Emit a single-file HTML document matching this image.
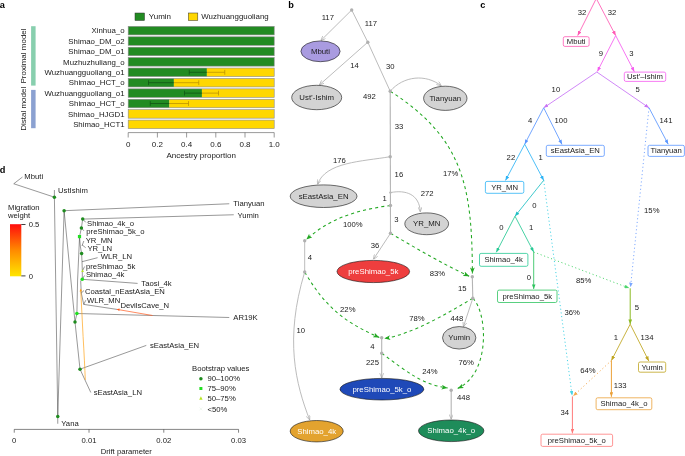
<!DOCTYPE html>
<html lang="en"><head><meta charset="utf-8"><title>Figure</title>
<style>html,body{margin:0;padding:0;background:#fff}body{width:685px;height:456px;overflow:hidden}svg{display:block}text{font-family:"Liberation Sans", Arial, Helvetica, sans-serif}</style></head><body>
<svg width="685" height="456" viewBox="0 0 685 456" fill="#1a1a1a" style="will-change:transform">
<rect width="685" height="456" fill="#fff"/>
<defs>
<marker id="mg" viewBox="0 0 10 9" refX="10" refY="4.5" markerWidth="5" markerHeight="4.5" orient="auto" markerUnits="userSpaceOnUse"><path d="M0.5,0.5L10,4.5L0.5,8.5" fill="none" stroke="#a8a8a8" stroke-width="1.3"/></marker>
<marker id="mgr" viewBox="0 0 10 8" refX="10" refY="4" markerWidth="6" markerHeight="4.8" orient="auto" markerUnits="userSpaceOnUse"><path d="M0,0L10,4L0,8L2.5,4z" fill="#22a822"/></marker>
<marker id="m_pink" viewBox="0 0 10 8" refX="10" refY="4" markerWidth="4.8" markerHeight="3.7" orient="auto" markerUnits="userSpaceOnUse"><path d="M0,0L10,4L0,8z" fill="#ff5ab4"/></marker>
<marker id="m_mag" viewBox="0 0 10 8" refX="10" refY="4" markerWidth="4.8" markerHeight="3.7" orient="auto" markerUnits="userSpaceOnUse"><path d="M0,0L10,4L0,8z" fill="#f55cf0"/></marker>
<marker id="m_pur" viewBox="0 0 10 8" refX="10" refY="4" markerWidth="4.8" markerHeight="3.7" orient="auto" markerUnits="userSpaceOnUse"><path d="M0,0L10,4L0,8z" fill="#c873f5"/></marker>
<marker id="m_blue" viewBox="0 0 10 8" refX="10" refY="4" markerWidth="4.8" markerHeight="3.7" orient="auto" markerUnits="userSpaceOnUse"><path d="M0,0L10,4L0,8z" fill="#5a96ff"/></marker>
<marker id="m_sky" viewBox="0 0 10 8" refX="10" refY="4" markerWidth="4.8" markerHeight="3.7" orient="auto" markerUnits="userSpaceOnUse"><path d="M0,0L10,4L0,8z" fill="#2db4f5"/></marker>
<marker id="m_teal" viewBox="0 0 10 8" refX="10" refY="4" markerWidth="4.8" markerHeight="3.7" orient="auto" markerUnits="userSpaceOnUse"><path d="M0,0L10,4L0,8z" fill="#1fbfc4"/></marker>
<marker id="m_grn" viewBox="0 0 10 8" refX="10" refY="4" markerWidth="4.8" markerHeight="3.7" orient="auto" markerUnits="userSpaceOnUse"><path d="M0,0L10,4L0,8z" fill="#27c994"/></marker>
<marker id="m_grn2" viewBox="0 0 10 8" refX="10" refY="4" markerWidth="4.8" markerHeight="3.7" orient="auto" markerUnits="userSpaceOnUse"><path d="M0,0L10,4L0,8z" fill="#2fc45f"/></marker>
<marker id="m_olive" viewBox="0 0 10 8" refX="10" refY="4" markerWidth="4.8" markerHeight="3.7" orient="auto" markerUnits="userSpaceOnUse"><path d="M0,0L10,4L0,8z" fill="#8cba24"/></marker>
<marker id="m_gold" viewBox="0 0 10 8" refX="10" refY="4" markerWidth="4.8" markerHeight="3.7" orient="auto" markerUnits="userSpaceOnUse"><path d="M0,0L10,4L0,8z" fill="#bfa51f"/></marker>
<marker id="m_org" viewBox="0 0 10 8" refX="10" refY="4" markerWidth="4.8" markerHeight="3.7" orient="auto" markerUnits="userSpaceOnUse"><path d="M0,0L10,4L0,8z" fill="#eba13a"/></marker>
<marker id="m_red" viewBox="0 0 10 8" refX="10" refY="4" markerWidth="4.8" markerHeight="3.7" orient="auto" markerUnits="userSpaceOnUse"><path d="M0,0L10,4L0,8z" fill="#ff7a7a"/></marker>
<marker id="m_cyan" viewBox="0 0 10 8" refX="10" refY="4" markerWidth="4.8" markerHeight="3.7" orient="auto" markerUnits="userSpaceOnUse"><path d="M0,0L10,4L0,8z" fill="#45d3e6"/></marker>
<marker id="m_lblue" viewBox="0 0 10 8" refX="10" refY="4" markerWidth="4.8" markerHeight="3.7" orient="auto" markerUnits="userSpaceOnUse"><path d="M0,0L10,4L0,8z" fill="#7aa7ff"/></marker>
<marker id="m_lgrn" viewBox="0 0 10 8" refX="10" refY="4" markerWidth="4.8" markerHeight="3.7" orient="auto" markerUnits="userSpaceOnUse"><path d="M0,0L10,4L0,8z" fill="#4fd66e"/></marker>
<marker id="m_lorg" viewBox="0 0 10 8" refX="10" refY="4" markerWidth="4.8" markerHeight="3.7" orient="auto" markerUnits="userSpaceOnUse"><path d="M0,0L10,4L0,8z" fill="#f5a94f"/></marker>
<linearGradient id="mw" x1="0" y1="0" x2="0" y2="1"><stop offset="0" stop-color="#ff0d0d"/><stop offset="0.5" stop-color="#ff8a00"/><stop offset="1" stop-color="#ffe600"/></linearGradient>
</defs>
<text x="-0.30" y="8.30" font-size="9.2" fill="#000" font-weight="bold">a</text>
<text x="288.20" y="8.30" font-size="9.2" fill="#000" font-weight="bold">b</text>
<text x="480.20" y="8.30" font-size="9.2" fill="#000" font-weight="bold">c</text>
<text x="-0.30" y="173.20" font-size="9.2" fill="#000" font-weight="bold">d</text>
<rect x="135" y="13" width="9.5" height="7.5" fill="#228b22" stroke="#333" stroke-width="0.5"/>
<text x="148.80" y="19.40" font-size="8">Yumin</text>
<rect x="188.3" y="13" width="9.5" height="7.5" fill="#ffd700" stroke="#333" stroke-width="0.5"/>
<text x="201.30" y="19.40" font-size="7.9">Wuzhuangguoliang</text>
<rect x="31.1" y="26.2" width="4.5" height="59.4" fill="#88cfae"/>
<rect x="31.1" y="89.9" width="4.5" height="38.3" fill="#8ba1d1"/>
<text transform="translate(26.2,56) rotate(-90)" text-anchor="middle" font-size="8">Proximal model</text>
<text transform="translate(26.2,108.8) rotate(-90)" text-anchor="middle" font-size="8">Distal model</text>
<rect x="128.20" y="26.40" width="146.00" height="8.50" fill="#228b22"/>
<rect x="128.20" y="26.40" width="146.00" height="8.50" fill="none" stroke="#8a8a8a" stroke-width="0.6"/>
<text x="124.60" y="33.40" font-size="7.85" text-anchor="end">Xinhua_o</text>
<rect x="128.20" y="36.81" width="146.00" height="8.50" fill="#228b22"/>
<rect x="128.20" y="36.81" width="146.00" height="8.50" fill="none" stroke="#8a8a8a" stroke-width="0.6"/>
<text x="124.60" y="43.81" font-size="7.85" text-anchor="end">Shimao_DM_o2</text>
<rect x="128.20" y="47.22" width="146.00" height="8.50" fill="#228b22"/>
<rect x="128.20" y="47.22" width="146.00" height="8.50" fill="none" stroke="#8a8a8a" stroke-width="0.6"/>
<text x="124.60" y="54.22" font-size="7.85" text-anchor="end">Shimao_DM_o1</text>
<rect x="128.20" y="57.63" width="146.00" height="8.50" fill="#228b22"/>
<rect x="128.20" y="57.63" width="146.00" height="8.50" fill="none" stroke="#8a8a8a" stroke-width="0.6"/>
<text x="124.60" y="64.63" font-size="7.85" text-anchor="end">Muzhuzhuliang_o</text>
<rect x="128.20" y="68.04" width="78.69" height="8.50" fill="#228b22"/>
<rect x="206.89" y="68.04" width="67.31" height="8.50" fill="#ffd700"/>
<rect x="128.20" y="68.04" width="146.00" height="8.50" fill="none" stroke="#8a8a8a" stroke-width="0.6"/>
<path d="M189.25,72.29H206.89M189.25,69.89V74.69" stroke="#0f4f14" stroke-width="0.7" fill="none"/>
<path d="M206.89,72.29H224.75M224.75,69.89V74.69" stroke="#b58a00" stroke-width="0.7" fill="none"/>
<text x="124.60" y="75.04" font-size="7.85" text-anchor="end">Wuzhuangguoliang_o1</text>
<rect x="128.20" y="78.45" width="45.70" height="8.50" fill="#228b22"/>
<rect x="173.90" y="78.45" width="100.30" height="8.50" fill="#ffd700"/>
<rect x="128.20" y="78.45" width="146.00" height="8.50" fill="none" stroke="#8a8a8a" stroke-width="0.6"/>
<path d="M148.50,82.70H173.90M148.50,80.30V85.10" stroke="#0f4f14" stroke-width="0.7" fill="none"/>
<path d="M173.90,82.70H198.75M198.75,80.30V85.10" stroke="#b58a00" stroke-width="0.7" fill="none"/>
<text x="124.60" y="85.45" font-size="7.85" text-anchor="end">Shimao_HCT_o</text>
<rect x="128.20" y="88.86" width="73.73" height="8.50" fill="#228b22"/>
<rect x="201.93" y="88.86" width="72.27" height="8.50" fill="#ffd700"/>
<rect x="128.20" y="88.86" width="146.00" height="8.50" fill="none" stroke="#8a8a8a" stroke-width="0.6"/>
<path d="M184.50,93.11H201.93M184.50,90.71V95.51" stroke="#0f4f14" stroke-width="0.7" fill="none"/>
<path d="M201.93,93.11H218.50M218.50,90.71V95.51" stroke="#b58a00" stroke-width="0.7" fill="none"/>
<text x="124.60" y="95.86" font-size="7.85" text-anchor="end">Wuzhuangguoliang_o1</text>
<rect x="128.20" y="99.27" width="41.25" height="8.50" fill="#228b22"/>
<rect x="169.44" y="99.27" width="104.75" height="8.50" fill="#ffd700"/>
<rect x="128.20" y="99.27" width="146.00" height="8.50" fill="none" stroke="#8a8a8a" stroke-width="0.6"/>
<path d="M150.25,103.52H169.44M150.25,101.12V105.92" stroke="#0f4f14" stroke-width="0.7" fill="none"/>
<path d="M169.44,103.52H188.50M188.50,101.12V105.92" stroke="#b58a00" stroke-width="0.7" fill="none"/>
<text x="124.60" y="106.27" font-size="7.85" text-anchor="end">Shimao_HCT_o</text>
<rect x="128.20" y="109.68" width="146.00" height="8.50" fill="#ffd700"/>
<rect x="128.20" y="109.68" width="146.00" height="8.50" fill="none" stroke="#8a8a8a" stroke-width="0.6"/>
<text x="124.60" y="116.68" font-size="7.85" text-anchor="end">Shimao_HJGD1</text>
<rect x="128.20" y="120.09" width="146.00" height="8.50" fill="#ffd700"/>
<rect x="128.20" y="120.09" width="146.00" height="8.50" fill="none" stroke="#8a8a8a" stroke-width="0.6"/>
<text x="124.60" y="127.09" font-size="7.85" text-anchor="end">Shimao_HCT1</text>
<path d="M128.20,132.6H274.20M128.20,132.6V137.5M157.40,132.6V137.5M186.60,132.6V137.5M215.80,132.6V137.5M245.00,132.6V137.5M274.20,132.6V137.5" stroke="#555" stroke-width="0.6" fill="none"/>
<text x="128.20" y="146.60" font-size="8" text-anchor="middle">0</text>
<text x="157.40" y="146.60" font-size="8" text-anchor="middle">0.2</text>
<text x="186.60" y="146.60" font-size="8" text-anchor="middle">0.4</text>
<text x="215.80" y="146.60" font-size="8" text-anchor="middle">0.6</text>
<text x="245.00" y="146.60" font-size="8" text-anchor="middle">0.8</text>
<text x="274.20" y="146.60" font-size="8" text-anchor="middle">1.0</text>
<text x="201.20" y="158.10" font-size="8" text-anchor="middle">Ancestry proportion</text>
<g id="panel-d">
<path d="M22.50,177.00L13.75,183.75L54.40,197.20" stroke="#333" stroke-width="0.5" fill="none"/>
<path d="M54.40,190.00L54.40,197.20L57.75,416.50L57.75,423.75" stroke="#333" stroke-width="0.5" fill="none"/>
<path d="M64.10,210.70L229.25,203.75" stroke="#333" stroke-width="0.5" fill="none"/>
<path d="M64.10,210.70L57.75,416.50" stroke="#333" stroke-width="0.5" fill="none"/>
<path d="M64.10,210.70L75.00,322.00" stroke="#333" stroke-width="0.5" fill="none"/>
<path d="M75.00,322.00L80.00,369.20" stroke="#333" stroke-width="0.5" fill="none"/>
<path d="M80.00,369.20L146.30,345.40" stroke="#333" stroke-width="0.5" fill="none"/>
<path d="M80.00,369.20L90.80,392.50" stroke="#333" stroke-width="0.5" fill="none"/>
<path d="M75.00,322.00L76.90,313.50" stroke="#333" stroke-width="0.5" fill="none"/>
<path d="M76.90,313.50L229.25,317.50" stroke="#333" stroke-width="0.5" fill="none"/>
<path d="M76.90,313.50L77.60,280.00L79.40,240.00L79.50,236.60" stroke="#333" stroke-width="0.5" fill="none"/>
<path d="M79.50,236.60L81.40,228.00L82.70,219.10" stroke="#333" stroke-width="0.5" fill="none"/>
<path d="M82.70,219.10L233.75,214.75" stroke="#333" stroke-width="0.5" fill="none"/>
<path d="M82.70,219.10L85.80,222.40" stroke="#333" stroke-width="0.5" fill="none"/>
<path d="M81.40,228.00L83.90,230.80" stroke="#333" stroke-width="0.5" fill="none"/>
<path d="M79.50,236.60L80.30,246.00L81.60,253.60" stroke="#333" stroke-width="0.5" fill="none"/>
<path d="M82.00,245.80L83.80,241.00" stroke="#333" stroke-width="0.5" fill="none"/>
<path d="M82.20,245.00L85.70,247.70" stroke="#333" stroke-width="0.5" fill="none"/>
<path d="M81.60,253.60L82.00,261.70L97.60,257.70" stroke="#333" stroke-width="0.5" fill="none"/>
<path d="M82.00,261.70L82.30,270.50L82.30,279.30" stroke="#333" stroke-width="0.5" fill="none"/>
<path d="M82.60,270.60L84.60,266.50" stroke="#333" stroke-width="0.5" fill="none"/>
<path d="M82.30,279.30L84.50,275.50" stroke="#333" stroke-width="0.5" fill="none"/>
<path d="M82.30,279.30L137.60,283.40" stroke="#333" stroke-width="0.5" fill="none"/>
<path d="M82.30,279.30L80.70,281.00L81.25,293.00L83.75,304.40L117.00,309.40" stroke="#333" stroke-width="0.5" fill="none"/>
<path d="M81.25,293.00L84.00,290.50" stroke="#333" stroke-width="0.5" fill="none"/>
<path d="M83.75,304.40L85.80,300.20" stroke="#333" stroke-width="0.5" fill="none"/>
<path d="M85.3,380 Q84.6,362 83.1,336.7 L80.7,289.5" stroke="#ffa31a" stroke-width="0.7" fill="none"/>
<path d="M79.6,291.4L80.7,288.6L81.9,291.3z" fill="#ffa31a"/>
<path d="M152.50,315.50L117.20,309.40" stroke="#ff5a1f" stroke-width="0.7" fill="none"/>
<path d="M119.6,308.6L116.6,309.3L119.3,310.9z" fill="#ff5a1f"/>
<circle cx="54.40" cy="197.20" r="1.75" fill="#1e8c1e"/>
<circle cx="64.10" cy="210.70" r="1.75" fill="#1e8c1e"/>
<circle cx="82.70" cy="219.10" r="1.75" fill="#1e8c1e"/>
<circle cx="81.40" cy="228.00" r="1.75" fill="#1e8c1e"/>
<circle cx="81.60" cy="253.60" r="1.75" fill="#1e8c1e"/>
<circle cx="75.00" cy="322.00" r="1.75" fill="#1e8c1e"/>
<circle cx="80.00" cy="369.20" r="1.75" fill="#1e8c1e"/>
<circle cx="57.75" cy="416.50" r="1.75" fill="#1e8c1e"/>
<circle cx="82.30" cy="279.30" r="1.8" fill="#22e022"/>
<circle cx="76.90" cy="313.50" r="1.8" fill="#22e022"/>
<rect x="77.90" y="235.00" width="3.2" height="3.2" fill="#22e022"/>
<path d="M81.3,272L82.6,269.2L83.9,272z" fill="#b6e61e"/>
<text x="24.30" y="179.30" font-size="7.7">Mbuti</text>
<text x="58.00" y="192.60" font-size="7.7">UstIshim</text>
<text x="233.30" y="205.80" font-size="7.7">Tianyuan</text>
<text x="237.50" y="217.50" font-size="7.7">Yumin</text>
<text x="87.00" y="226.40" font-size="7.7">Shimao_4k_o</text>
<text x="86.30" y="233.90" font-size="7.7">preShimao_5k_o</text>
<text x="85.70" y="242.70" font-size="7.7">YR_MN</text>
<text x="87.40" y="251.10" font-size="7.7">YR_LN</text>
<text x="100.80" y="259.40" font-size="7.7">WLR_LN</text>
<text x="85.90" y="268.50" font-size="7.7">preShimao_5k</text>
<text x="85.90" y="277.00" font-size="7.7">Shimao_4k</text>
<text x="141.30" y="285.50" font-size="7.7">Taosi_4k</text>
<text x="85.00" y="293.80" font-size="7.7">Coastal_nEastAsia_EN</text>
<text x="86.90" y="302.50" font-size="7.7">WLR_MN</text>
<text x="120.40" y="307.90" font-size="7.7">DevilsCave_N</text>
<text x="233.30" y="320.00" font-size="7.7">AR19K</text>
<text x="150.00" y="347.50" font-size="7.7">sEastAsia_EN</text>
<text x="93.70" y="394.70" font-size="7.7">sEastAsia_LN</text>
<text x="61.30" y="425.50" font-size="7.7">Yana</text>
<text x="8.00" y="209.50" font-size="7.7">Migration</text>
<text x="8.00" y="217.60" font-size="7.7">weight</text>
<rect x="10" y="224.2" width="11.3" height="52.1" fill="url(#mw)"/>
<path d="M21.3,224.5H25.5M21.3,275.9H25.5" stroke="#000" stroke-width="0.75"/>
<text x="28.70" y="227.20" font-size="7.7">0.5</text>
<text x="28.70" y="278.50" font-size="7.7">0</text>
<text x="192.10" y="370.70" font-size="7.7">Bootstrap values</text>
<circle cx="200.90" cy="378.80" r="1.75" fill="#1e8c1e"/>
<rect x="199.4" y="387" width="3" height="3" fill="#22e022"/>
<path d="M199.2,399.7L200.9,396.3L202.6,399.7z" fill="#b6e61e"/>
<path d="M199.5,407.5L202.3,410.3M202.3,407.5L199.5,410.3" stroke="#dfeedd" stroke-width="0.5"/>
<text x="207.50" y="380.70" font-size="7.7">90–100%</text>
<text x="207.50" y="391.10" font-size="7.7">75–90%</text>
<text x="207.50" y="401.40" font-size="7.7">50–75%</text>
<text x="207.50" y="411.90" font-size="7.7">&lt;50%</text>
<path d="M14.25,429.4H238.56M14.25,429.4V432.7M89.02,429.4V432.7M163.79,429.4V432.7M238.56,429.4V432.7" stroke="#333" stroke-width="0.6" fill="none"/>
<text x="14.25" y="442.60" font-size="7.7" text-anchor="middle">0</text>
<text x="89.02" y="442.60" font-size="7.7" text-anchor="middle">0.01</text>
<text x="163.79" y="442.60" font-size="7.7" text-anchor="middle">0.02</text>
<text x="238.56" y="442.60" font-size="7.7" text-anchor="middle">0.03</text>
<text x="126.30" y="454.30" font-size="7.7" text-anchor="middle">Drift parameter</text>
</g>
<g id="panel-b">
<path d="M351.7,10.0L320.8,40.6" stroke="#b4b4b4" stroke-width="0.9" fill="none" marker-end="url(#mg)"/>
<path d="M351.7,10.0L367.8,42.2L390.2,91.2" stroke="#b4b4b4" stroke-width="0.9" fill="none"/>
<path d="M367.8,42.2L319.3,85" stroke="#b4b4b4" stroke-width="0.9" fill="none" marker-end="url(#mg)"/>
<path d="M390.2,91.2L390.5,233.3" stroke="#b4b4b4" stroke-width="1.1" fill="none"/>
<path d="M390.2,91.2C403.5,75.8 425.9,73.7 441.3,85.9" stroke="#b4b4b4" stroke-width="0.9" fill="none" marker-end="url(#mg)"/>
<path d="M390.2,156.7C361.9,161.5 325.1,162 317.6,184.4" stroke="#b4b4b4" stroke-width="0.9" fill="none" marker-end="url(#mg)"/>
<path d="M390.4,192.6C406,189.5 419.4,194.4 420.3,211.8" stroke="#b4b4b4" stroke-width="0.9" fill="none" marker-end="url(#mg)"/>
<path d="M390.5,233.3L373.4,259.3" stroke="#b4b4b4" stroke-width="0.9" fill="none" marker-end="url(#mg)"/>
<path d="M304.7,240.8L304.7,272.0" stroke="#b4b4b4" stroke-width="0.9" fill="none"/>
<path d="M304.7,272.0C284.2,339.6 295.8,384.1 309.7,420" stroke="#b4b4b4" stroke-width="0.9" fill="none" marker-end="url(#mg)"/>
<path d="M472.3,276.7L472.8,298.3" stroke="#b4b4b4" stroke-width="1.1" fill="none"/>
<path d="M472.8,298.3L463.4,326.8" stroke="#b4b4b4" stroke-width="0.9" fill="none" marker-end="url(#mg)"/>
<path d="M381.7,337.8L381.7,377.9" stroke="#b4b4b4" stroke-width="1.1" fill="none" marker-end="url(#mg)"/>
<path d="M451.2,390.3L451.2,419.2" stroke="#b4b4b4" stroke-width="1.1" fill="none" marker-end="url(#mg)"/>
<path d="M390.2,91.2C464.4,138.9 472,187.9 472.4,273.5" stroke="#22a822" stroke-width="1.05" fill="none" marker-end="url(#mgr)" stroke-dasharray="3.1,3.1"/>
<path d="M390.5,205.5C359.2,209.6 330.6,217.5 306.3,239.6" stroke="#22a822" stroke-width="1.05" fill="none" marker-end="url(#mgr)" stroke-dasharray="3.1,3.1"/>
<path d="M390.5,233.3C417.1,248.8 443.8,264.6 469.2,276.2" stroke="#22a822" stroke-width="1.05" fill="none" marker-end="url(#mgr)" stroke-dasharray="3.1,3.1"/>
<path d="M304.7,272.0C325.2,307.2 345.1,322.6 379.3,337.4" stroke="#22a822" stroke-width="1.05" fill="none" marker-end="url(#mgr)" stroke-dasharray="3.1,3.1"/>
<path d="M472.8,298.3C447.6,313.1 412.5,334.2 384.3,338.4" stroke="#22a822" stroke-width="1.05" fill="none" marker-end="url(#mgr)" stroke-dasharray="3.1,3.1"/>
<path d="M381.7,353.3C406.9,371.7 421.6,384.3 447.6,388" stroke="#22a822" stroke-width="1.05" fill="none" marker-end="url(#mgr)" stroke-dasharray="3.1,3.1"/>
<path d="M472.8,298.3C487,311.3 491.5,373.1 457.7,388.4" stroke="#22a822" stroke-width="1.05" fill="none" marker-end="url(#mgr)" stroke-dasharray="3.1,3.1"/>
<circle cx="351.70" cy="10.00" r="1.7" fill="#b0b0b0"/>
<circle cx="367.80" cy="42.20" r="1.7" fill="#b0b0b0"/>
<circle cx="390.20" cy="91.20" r="1.7" fill="#b0b0b0"/>
<circle cx="390.20" cy="156.70" r="1.7" fill="#b0b0b0"/>
<circle cx="390.50" cy="205.50" r="1.7" fill="#b0b0b0"/>
<circle cx="390.50" cy="233.30" r="1.7" fill="#b0b0b0"/>
<circle cx="304.70" cy="240.80" r="1.7" fill="#b0b0b0"/>
<circle cx="304.70" cy="272.00" r="1.7" fill="#b0b0b0"/>
<circle cx="472.30" cy="276.70" r="1.7" fill="#b0b0b0"/>
<circle cx="472.80" cy="298.30" r="1.7" fill="#b0b0b0"/>
<circle cx="381.70" cy="337.80" r="1.7" fill="#b0b0b0"/>
<circle cx="381.70" cy="353.30" r="1.7" fill="#b0b0b0"/>
<circle cx="451.20" cy="390.30" r="1.7" fill="#b0b0b0"/>
<circle cx="390.40" cy="192.60" r="1.2" fill="#b8b8b8"/>
<ellipse cx="320.50" cy="51.30" rx="19.60" ry="10.40" fill="#a99be0" stroke="#111" stroke-width="0.6"/>
<text x="320.50" y="53.90" font-size="7.8" text-anchor="middle" fill="#1a1a1a">Mbuti</text>
<ellipse cx="316.70" cy="97.50" rx="25.00" ry="12.20" fill="#d3d3d3" stroke="#111" stroke-width="0.6"/>
<text x="316.70" y="100.10" font-size="7.8" text-anchor="middle" fill="#1a1a1a">Ust’-Ishim</text>
<ellipse cx="445.30" cy="98.30" rx="21.70" ry="12.10" fill="#d3d3d3" stroke="#111" stroke-width="0.6"/>
<text x="445.30" y="100.90" font-size="7.8" text-anchor="middle" fill="#1a1a1a">Tianyuan</text>
<ellipse cx="323.60" cy="196.20" rx="33.40" ry="11.30" fill="#d3d3d3" stroke="#111" stroke-width="0.6"/>
<text x="323.60" y="198.80" font-size="7.8" text-anchor="middle" fill="#1a1a1a">sEastAsia_EN</text>
<ellipse cx="426.70" cy="223.80" rx="21.90" ry="10.90" fill="#d3d3d3" stroke="#111" stroke-width="0.6"/>
<text x="426.70" y="226.40" font-size="7.8" text-anchor="middle" fill="#1a1a1a">YR_MN</text>
<ellipse cx="373.30" cy="271.50" rx="36.30" ry="11.10" fill="#ee3e3e" stroke="#111" stroke-width="0.6"/>
<text x="373.30" y="274.10" font-size="7.8" text-anchor="middle" fill="#fff">preShimao_5k</text>
<ellipse cx="459.20" cy="337.80" rx="16.70" ry="11.25" fill="#d3d3d3" stroke="#111" stroke-width="0.6"/>
<text x="459.20" y="340.40" font-size="7.8" text-anchor="middle" fill="#1a1a1a">Yumin</text>
<ellipse cx="381.90" cy="389.20" rx="41.90" ry="10.80" fill="#1f49b8" stroke="#111" stroke-width="0.6"/>
<text x="381.90" y="391.80" font-size="7.8" text-anchor="middle" fill="#fff">preShimao_5k_o</text>
<ellipse cx="316.70" cy="431.20" rx="26.50" ry="10.70" fill="#e3a32f" stroke="#111" stroke-width="0.6"/>
<text x="316.70" y="433.80" font-size="7.8" text-anchor="middle" fill="#fff">Shimao_4k</text>
<ellipse cx="451.20" cy="430.80" rx="32.70" ry="10.80" fill="#1e8c5a" stroke="#111" stroke-width="0.6"/>
<text x="451.20" y="433.40" font-size="7.8" text-anchor="middle" fill="#fff">Shimao_4k_o</text>
<text x="327.80" y="20.30" font-size="7.7" text-anchor="middle">117</text>
<text x="371.00" y="25.80" font-size="7.7" text-anchor="middle">117</text>
<text x="354.50" y="68.00" font-size="7.7" text-anchor="middle">14</text>
<text x="390.30" y="68.80" font-size="7.7" text-anchor="middle">30</text>
<text x="369.40" y="98.70" font-size="7.7" text-anchor="middle">492</text>
<text x="399.10" y="128.80" font-size="7.7" text-anchor="middle">33</text>
<text x="339.40" y="162.50" font-size="7.7" text-anchor="middle">176</text>
<text x="398.90" y="176.70" font-size="7.7" text-anchor="middle">16</text>
<text x="450.70" y="176.40" font-size="7.7" text-anchor="middle">17%</text>
<text x="427.20" y="196.20" font-size="7.7" text-anchor="middle">272</text>
<text x="384.60" y="200.80" font-size="7.7" text-anchor="middle">1</text>
<text x="396.30" y="221.70" font-size="7.7" text-anchor="middle">3</text>
<text x="352.80" y="227.00" font-size="7.7" text-anchor="middle">100%</text>
<text x="375.00" y="247.50" font-size="7.7" text-anchor="middle">36</text>
<text x="310.00" y="259.60" font-size="7.7" text-anchor="middle">4</text>
<text x="437.50" y="275.80" font-size="7.7" text-anchor="middle">83%</text>
<text x="462.30" y="290.50" font-size="7.7" text-anchor="middle">15</text>
<text x="347.80" y="311.70" font-size="7.7" text-anchor="middle">22%</text>
<text x="417.00" y="320.50" font-size="7.7" text-anchor="middle">78%</text>
<text x="456.80" y="320.50" font-size="7.7" text-anchor="middle">448</text>
<text x="300.70" y="332.50" font-size="7.7" text-anchor="middle">10</text>
<text x="372.40" y="348.70" font-size="7.7" text-anchor="middle">4</text>
<text x="372.50" y="364.70" font-size="7.7" text-anchor="middle">225</text>
<text x="466.20" y="364.50" font-size="7.7" text-anchor="middle">76%</text>
<text x="429.90" y="373.80" font-size="7.7" text-anchor="middle">24%</text>
<text x="463.50" y="399.70" font-size="7.7" text-anchor="middle">448</text>
</g>
<g id="panel-c">
<path d="M649.00,107.80L630.50,287.20" stroke="#7aa7ff" stroke-width="1" stroke-dasharray="1.1,2.6" fill="none" marker-end="url(#m_lblue)"/>
<path d="M543.70,180.30L572.10,395.60" stroke="#45d3e6" stroke-width="1" stroke-dasharray="1.1,2.6" fill="none" marker-end="url(#m_cyan)"/>
<path d="M533.70,252.00L629.20,288.10" stroke="#4fd66e" stroke-width="1" stroke-dasharray="1.1,2.6" fill="none" marker-end="url(#m_lgrn)"/>
<path d="M611.40,360.50L573.20,396.00" stroke="#f5a94f" stroke-width="1" stroke-dasharray="1.1,2.6" fill="none" marker-end="url(#m_lorg)"/>
<path d="M596.30,-1.50L577.70,35.60" stroke="#ff5ab4" stroke-width="0.85" fill="none" marker-end="url(#m_pink)"/>
<path d="M596.30,-1.50L615.70,35.60" stroke="#ff5ab4" stroke-width="0.85" fill="none" marker-end="url(#m_pink)"/>
<path d="M615.70,35.60L597.40,71.40" stroke="#f55cf0" stroke-width="0.85" fill="none" marker-end="url(#m_mag)"/>
<path d="M615.70,35.60L634.30,71.70" stroke="#f55cf0" stroke-width="0.85" fill="none" marker-end="url(#m_mag)"/>
<path d="M596.80,72.00L543.70,107.80" stroke="#c873f5" stroke-width="0.85" fill="none" marker-end="url(#m_pur)"/>
<path d="M596.80,72.00L649.00,107.80" stroke="#c873f5" stroke-width="0.85" fill="none" marker-end="url(#m_pur)"/>
<path d="M543.70,107.80L524.70,144.20" stroke="#5a96ff" stroke-width="0.85" fill="none" marker-end="url(#m_blue)"/>
<path d="M543.70,107.80L562.00,144.40" stroke="#5a96ff" stroke-width="0.85" fill="none" marker-end="url(#m_blue)"/>
<path d="M649.00,107.80L668.20,144.20" stroke="#5a96ff" stroke-width="0.85" fill="none" marker-end="url(#m_blue)"/>
<path d="M524.70,144.20L505.50,180.40" stroke="#2db4f5" stroke-width="0.85" fill="none" marker-end="url(#m_sky)"/>
<path d="M524.70,144.20L543.70,180.30" stroke="#2db4f5" stroke-width="0.85" fill="none" marker-end="url(#m_sky)"/>
<path d="M543.70,180.30L515.00,216.20" stroke="#1fbfc4" stroke-width="0.85" fill="none" marker-end="url(#m_teal)"/>
<path d="M515.00,216.20L496.30,252.30" stroke="#27c994" stroke-width="0.85" fill="none" marker-end="url(#m_grn)"/>
<path d="M515.00,216.20L533.70,252.00" stroke="#27c994" stroke-width="0.85" fill="none" marker-end="url(#m_grn)"/>
<path d="M533.70,252.00L533.70,289.00" stroke="#2fc45f" stroke-width="0.85" fill="none" marker-end="url(#m_grn2)"/>
<path d="M630.20,288.30L630.20,324.20" stroke="#8cba24" stroke-width="1.0" fill="none" marker-end="url(#m_olive)"/>
<path d="M630.20,324.20L611.40,360.50" stroke="#bfa51f" stroke-width="0.85" fill="none" marker-end="url(#m_gold)"/>
<path d="M630.20,324.20L648.80,361.00" stroke="#bfa51f" stroke-width="0.85" fill="none" marker-end="url(#m_gold)"/>
<path d="M611.40,360.50L611.40,396.80" stroke="#eba13a" stroke-width="1.0" fill="none" marker-end="url(#m_org)"/>
<path d="M572.40,396.40L572.40,433.40" stroke="#ff7a7a" stroke-width="1.0" fill="none" marker-end="url(#m_red)"/>
<rect x="563.30" y="36.70" width="25.80" height="9.70" rx="1.6" fill="#fff" stroke="#ff5ab4" stroke-width="0.8"/>
<text x="576.20" y="44.05" font-size="7.7" text-anchor="middle">Mbuti</text>
<rect x="624.30" y="72.10" width="41.40" height="9.30" rx="1.6" fill="#fff" stroke="#f55cf0" stroke-width="0.8"/>
<text x="645.00" y="79.25" font-size="7.7" text-anchor="middle">Ust’–Ishim</text>
<rect x="546.30" y="145.30" width="58.00" height="11.10" rx="1.6" fill="#fff" stroke="#5a96ff" stroke-width="0.8"/>
<text x="575.30" y="153.35" font-size="7.7" text-anchor="middle">sEastAsia_EN</text>
<rect x="648.00" y="145.30" width="36.40" height="11.10" rx="1.6" fill="#fff" stroke="#5a96ff" stroke-width="0.8"/>
<text x="666.20" y="153.35" font-size="7.7" text-anchor="middle">Tianyuan</text>
<rect x="485.40" y="181.40" width="38.40" height="11.90" rx="1.6" fill="#fff" stroke="#2db4f5" stroke-width="0.8"/>
<text x="504.60" y="189.85" font-size="7.7" text-anchor="middle">YR_MN</text>
<rect x="479.50" y="253.40" width="48.40" height="12.90" rx="1.6" fill="#fff" stroke="#27c994" stroke-width="0.8"/>
<text x="503.70" y="262.35" font-size="7.7" text-anchor="middle">Shimao_4k</text>
<rect x="497.50" y="290.10" width="59.50" height="12.40" rx="1.6" fill="#fff" stroke="#2fc45f" stroke-width="0.8"/>
<text x="527.25" y="298.80" font-size="7.7" text-anchor="middle">preShimao_5k</text>
<rect x="638.50" y="362.00" width="27.20" height="10.20" rx="1.6" fill="#fff" stroke="#bfa51f" stroke-width="0.8"/>
<text x="652.10" y="369.60" font-size="7.7" text-anchor="middle">Yumin</text>
<rect x="596.10" y="397.80" width="55.70" height="11.90" rx="1.6" fill="#fff" stroke="#eba13a" stroke-width="0.8"/>
<text x="623.95" y="406.25" font-size="7.7" text-anchor="middle">Shimao_4k_o</text>
<rect x="541.00" y="434.20" width="71.60" height="12.20" rx="1.6" fill="#fff" stroke="#ff7a7a" stroke-width="0.8"/>
<text x="576.80" y="442.80" font-size="7.7" text-anchor="middle">preShimao_5k_o</text>
<text x="582.00" y="15.30" font-size="7.7" text-anchor="middle">32</text>
<text x="612.00" y="15.30" font-size="7.7" text-anchor="middle">32</text>
<text x="600.90" y="55.80" font-size="7.7" text-anchor="middle">9</text>
<text x="631.40" y="55.80" font-size="7.7" text-anchor="middle">3</text>
<text x="555.90" y="92.00" font-size="7.7" text-anchor="middle">10</text>
<text x="637.70" y="92.00" font-size="7.7" text-anchor="middle">5</text>
<text x="530.10" y="123.00" font-size="7.7" text-anchor="middle">4</text>
<text x="561.00" y="123.00" font-size="7.7" text-anchor="middle">100</text>
<text x="666.00" y="123.00" font-size="7.7" text-anchor="middle">141</text>
<text x="510.90" y="160.00" font-size="7.7" text-anchor="middle">22</text>
<text x="540.60" y="160.00" font-size="7.7" text-anchor="middle">1</text>
<text x="534.30" y="207.50" font-size="7.7" text-anchor="middle">0</text>
<text x="651.80" y="212.80" font-size="7.7" text-anchor="middle">15%</text>
<text x="501.30" y="230.30" font-size="7.7" text-anchor="middle">0</text>
<text x="531.20" y="230.30" font-size="7.7" text-anchor="middle">1</text>
<text x="528.80" y="280.00" font-size="7.7" text-anchor="middle">0</text>
<text x="583.60" y="282.50" font-size="7.7" text-anchor="middle">85%</text>
<text x="636.90" y="310.30" font-size="7.7" text-anchor="middle">5</text>
<text x="572.10" y="315.00" font-size="7.7" text-anchor="middle">36%</text>
<text x="615.80" y="339.50" font-size="7.7" text-anchor="middle">1</text>
<text x="647.00" y="339.50" font-size="7.7" text-anchor="middle">134</text>
<text x="587.90" y="373.20" font-size="7.7" text-anchor="middle">64%</text>
<text x="620.10" y="388.20" font-size="7.7" text-anchor="middle">133</text>
<text x="564.80" y="415.00" font-size="7.7" text-anchor="middle">34</text>
</g>
</svg></body></html>
